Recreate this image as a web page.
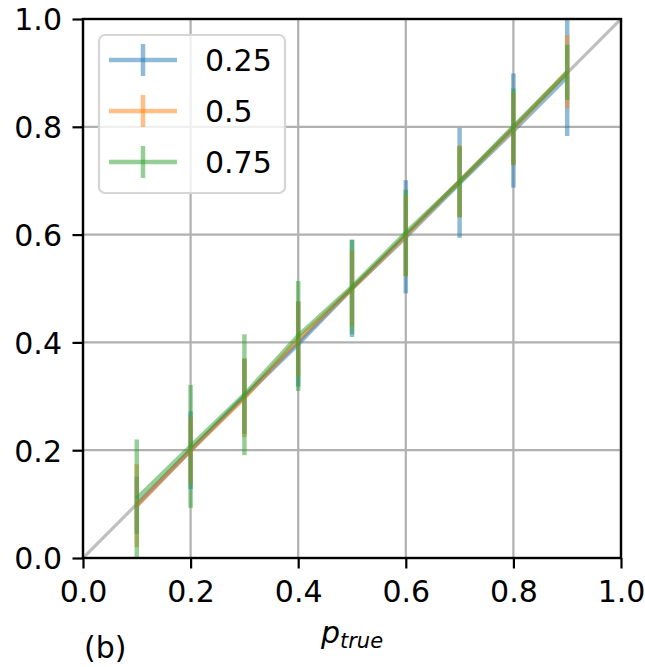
<!DOCTYPE html>
<html>
<head>
<meta charset="utf-8">
<script src="https://cdn.jsdelivr.net/npm/d3@7"></script>
<style>
  body { margin: 0; background: #fff; }
  svg { display: block; font-family: "DejaVu Sans", sans-serif; }
</style>
</head>
<body>
<div id="chart"></div>
<script>
// Data
const pTrue = [0.1, 0.2, 0.3, 0.4, 0.5, 0.6, 0.7, 0.8, 0.9];
const seriesLabels = ["0.25", "0.5", "0.75"];
const mean025 = [0.098, 0.2, 0.3, 0.397, 0.5, 0.596, 0.696, 0.793, 0.893];
const err025 = [0.053, 0.072, 0.07, 0.079, 0.09, 0.105, 0.102, 0.106, 0.11];
const mean05 = [0.097, 0.2, 0.297, 0.406, 0.5, 0.598, 0.699, 0.796, 0.902];
const err05 = [0.077, 0.062, 0.073, 0.07, 0.07, 0.075, 0.067, 0.067, 0.068];
const mean075 = [0.11, 0.207, 0.303, 0.412, 0.503, 0.603, 0.698, 0.8, 0.901];
const err075 = [0.11, 0.114, 0.112, 0.102, 0.088, 0.08, 0.066, 0.071, 0.051];
const xTicks = [0, 0.2, 0.4, 0.6, 0.8, 1.0];
const yTicks = [0, 0.2, 0.4, 0.6, 0.8, 1.0];

const series = [
  { label: seriesLabels[0], mean: mean025, err: err025, color: "#1f77b4" },
  { label: seriesLabels[1], mean: mean05, err: err05, color: "#ff7f0e" },
  { label: seriesLabels[2], mean: mean075, err: err075, color: "#2ca02c" },
];

// Dimensions
const dimensions = {
  width: 645,
  height: 667,
  margin: { top: 19, right: 24, bottom: 109, left: 83 },
};
dimensions.containerWidth =
  dimensions.width - dimensions.margin.left - dimensions.margin.right;
dimensions.containerHeight =
  dimensions.height - dimensions.margin.top - dimensions.margin.bottom;

const fontSize = 30;
const tickLen = 10.5;

const svg = d3
  .select("#chart")
  .append("svg")
  .attr("width", dimensions.width)
  .attr("height", dimensions.height);

const container = svg
  .append("g")
  .attr(
    "transform",
    `translate(${dimensions.margin.left}, ${dimensions.margin.top})`
  );

// Scales
const xScale = d3
  .scaleLinear()
  .domain([0, 1])
  .range([0, dimensions.containerWidth]);
const yScale = d3
  .scaleLinear()
  .domain([0, 1])
  .range([dimensions.containerHeight, 0]);

svg
  .append("defs")
  .append("clipPath")
  .attr("id", "clip")
  .append("rect")
  .attr("width", dimensions.containerWidth)
  .attr("height", dimensions.containerHeight);

// Grid
const grid = container.append("g");
grid
  .selectAll("line.gx")
  .data(xTicks)
  .join("line")
  .attr("x1", (d) => xScale(d))
  .attr("x2", (d) => xScale(d))
  .attr("y1", 0)
  .attr("y2", dimensions.containerHeight)
  .attr("stroke", "#b0b0b0")
  .attr("stroke-width", 2.2);
grid
  .selectAll("line.gy")
  .data(yTicks)
  .join("line")
  .attr("y1", (d) => yScale(d))
  .attr("y2", (d) => yScale(d))
  .attr("x1", 0)
  .attr("x2", dimensions.containerWidth)
  .attr("stroke", "#b0b0b0")
  .attr("stroke-width", 2.2);

const plot = container.append("g").attr("clip-path", "url(#clip)");

// Diagonal reference
plot
  .append("line")
  .attr("x1", xScale(0))
  .attr("y1", yScale(0))
  .attr("x2", xScale(1))
  .attr("y2", yScale(1))
  .attr("stroke", "#808080")
  .attr("stroke-opacity", 0.5)
  .attr("stroke-width", 3.2);

// Series: error bars + line
const line = d3
  .line()
  .x((d, i) => xScale(pTrue[i]))
  .y((d) => yScale(d));

series.forEach((s) => {
  const g = plot.append("g");
  g.selectAll("line")
    .data(pTrue)
    .join("line")
    .attr("x1", (d) => xScale(d))
    .attr("x2", (d) => xScale(d))
    .attr("y1", (d, i) => yScale(s.mean[i] - s.err[i]))
    .attr("y2", (d, i) => yScale(s.mean[i] + s.err[i]))
    .attr("stroke", s.color)
    .attr("stroke-opacity", 0.5)
    .attr("stroke-width", 4.5);
  g.append("path")
    .attr("d", line(s.mean))
    .attr("fill", "none")
    .attr("stroke", s.color)
    .attr("stroke-opacity", 0.5)
    .attr("stroke-width", 4.5);
});

// Axes
const xAxis = d3
  .axisBottom(xScale)
  .tickValues(xTicks)
  .tickFormat(d3.format(".1f"))
  .tickSize(tickLen)
  .tickSizeOuter(0);
const yAxis = d3
  .axisLeft(yScale)
  .tickValues(yTicks)
  .tickFormat(d3.format(".1f"))
  .tickSize(tickLen)
  .tickSizeOuter(0);

const xAxisG = container
  .append("g")
  .attr("transform", `translate(0, ${dimensions.containerHeight})`)
  .call(xAxis);
const yAxisG = container.append("g").call(yAxis);

[xAxisG, yAxisG].forEach((a) => {
  a.select(".domain").remove();
  a.selectAll(".tick line").attr("stroke", "#000").attr("stroke-width", 2.2);
  a.selectAll(".tick text")
    .attr("fill", "#000")
    .style("font-size", fontSize + "px")
    .style("font-family", "DejaVu Sans");
});
xAxisG.selectAll(".tick text").attr("y", tickLen + 10.5).attr("dy", "0.77em");
yAxisG.selectAll(".tick text").attr("x", -tickLen - 10.5).attr("dy", "0.36em");

// Spines
container
  .append("rect")
  .attr("width", dimensions.containerWidth)
  .attr("height", dimensions.containerHeight)
  .attr("fill", "none")
  .attr("stroke", "#000")
  .attr("stroke-width", 2.4);

// Axis label
const xLabel = svg
  .append("text")
  .attr("x", dimensions.margin.left + dimensions.containerWidth / 2)
  .attr("y", 643)
  .attr("text-anchor", "middle")
  .attr("fill", "#000")
  .style("font-size", fontSize + "px");
xLabel.append("tspan").attr("font-style", "italic").text("p");
xLabel
  .append("tspan")
  .attr("font-style", "italic")
  .attr("dy", 5)
  .style("font-size", "21px")
  .text("true");

svg
  .append("text")
  .attr("x", 84)
  .attr("y", 658)
  .attr("fill", "#000")
  .style("font-size", fontSize + "px")
  .text("(b)");

// Legend
const legend = container.append("g").attr("transform", "translate(16, 16)");
legend
  .append("rect")
  .attr("width", 186)
  .attr("height", 158)
  .attr("rx", 6)
  .attr("fill", "#fff")
  .attr("fill-opacity", 0.8)
  .attr("stroke", "#d6d6d6")
  .attr("stroke-width", 2.2);

const rows = legend
  .selectAll("g.row")
  .data(series)
  .join("g")
  .attr("transform", (d, i) => `translate(0, ${25 + i * 51})`);
rows
  .append("line")
  .attr("x1", 10)
  .attr("x2", 78)
  .attr("stroke", (d) => d.color)
  .attr("stroke-opacity", 0.5)
  .attr("stroke-width", 4.5);
rows
  .append("line")
  .attr("x1", 44)
  .attr("x2", 44)
  .attr("y1", -16)
  .attr("y2", 16)
  .attr("stroke", (d) => d.color)
  .attr("stroke-opacity", 0.5)
  .attr("stroke-width", 4.5);
rows
  .append("text")
  .attr("x", 106)
  .attr("dy", "0.36em")
  .attr("fill", "#000")
  .style("font-size", fontSize + "px")
  .text((d) => d.label);
</script>
</body>
</html>
